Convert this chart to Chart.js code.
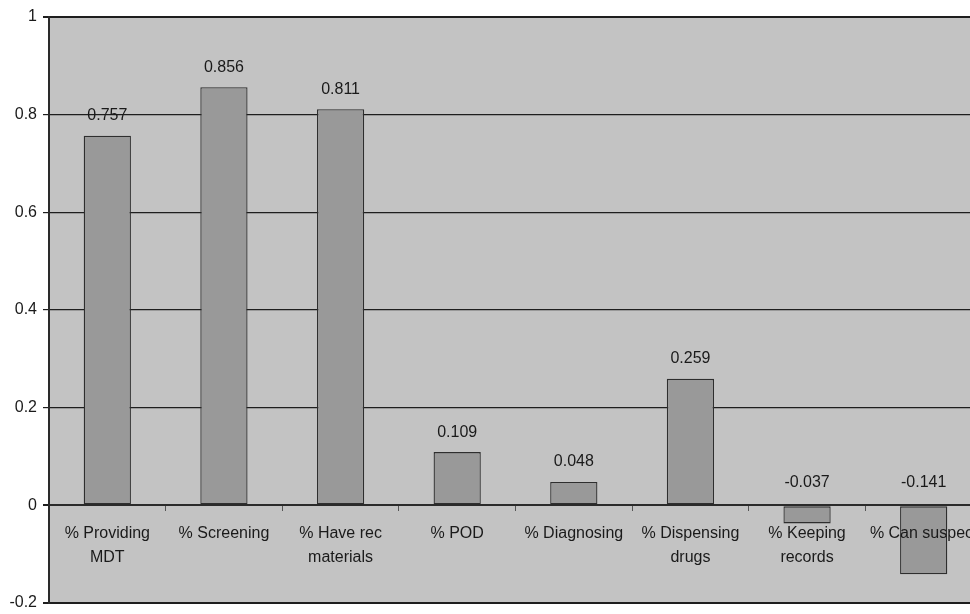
<!DOCTYPE html>
<html>
<head>
<meta charset="utf-8">
<script src="https://cdn.jsdelivr.net/npm/chart.js@4/dist/chart.umd.min.js"></script>
<style>
  html, body { margin: 0; padding: 0; background: #ffffff; overflow: hidden; }
  #wrap { width: 990px; height: 614px; }
</style>
</head>
<body>
<div id="wrap"><canvas id="c" width="990" height="614"></canvas></div>
<script>
// Share of facilities reporting each practice (difference scores)
const categories = [
  ['% Providing', 'MDT'],
  '% Screening',
  ['% Have rec', 'materials'],
  '% POD',
  '% Diagnosing',
  ['% Dispensing', 'drugs'],
  ['% Keeping', 'records'],
  '% Can suspect'
];
const values = [0.757, 0.856, 0.811, 0.109, 0.048, 0.259, -0.037, -0.141];
const yMin = -0.2, yMax = 1, yStep = 0.2;

const FONT = 'Liberation Sans, Arial, sans-serif';
const INK = '#1a1a1a';

// gray plot background behind the bars
const plotBackground = {
  id: 'plotBackground',
  beforeDraw(chart) {
    const { ctx, chartArea: a } = chart;
    ctx.save();
    ctx.fillStyle = '#c3c3c3';
    ctx.fillRect(a.left, a.top, a.right - a.left, a.bottom - a.top);
    ctx.restore();
  }
};

// value printed above each bar (negative bars get it above the zero line)
const valueLabels = {
  id: 'valueLabels',
  afterDatasetsDraw(chart) {
    const { ctx } = chart;
    const zeroY = chart.scales.y.getPixelForValue(0);
    const meta = chart.getDatasetMeta(0);
    ctx.save();
    ctx.font = '16px ' + FONT;
    ctx.fillStyle = INK;
    ctx.textAlign = 'center';
    ctx.textBaseline = 'middle';
    meta.data.forEach((bar, i) => {
      const v = values[i];
      const y = v >= 0 ? bar.y - 20 : zeroY - 23;
      ctx.fillText(v.toFixed(3), bar.x, y);
    });
    ctx.restore();
  }
};

new Chart(document.getElementById('c'), {
  type: 'bar',
  data: {
    labels: categories,
    datasets: [{
      data: values,
      backgroundColor: '#999999',
      borderColor: '#2e2e2e',
      borderWidth: 1.3,
      borderSkipped: false,
      categoryPercentage: 1,
      barPercentage: 0.405
    }]
  },
  options: {
    responsive: false,
    animation: false,
    layout: { padding: { top: 17, bottom: 11, left: 0, right: 8 } },
    plugins: { legend: { display: false }, tooltip: { enabled: false } },
    scales: {
      x: {
        type: 'category',
        position: { y: 0 },
        offset: true,
        grid: {
          offset: true,
          drawOnChartArea: false,
          drawTicks: true,
          tickLength: 5,
          color: '#555555',
          lineWidth: 1
        },
        border: { display: true, color: '#2a2a2a', width: 2, z: 1 },
        ticks: {
          z: 1,
          padding: 11,
          maxRotation: 0,
          autoSkip: false,
          color: INK,
          font: { family: FONT, size: 16, lineHeight: 1.5 }
        }
      },
      y: {
        min: yMin,
        max: yMax,
        afterFit(scale) {
          scale.width = 49;
          scale.paddingTop = 0;
          scale.paddingBottom = 0;
        },
        afterBuildTicks(scale) {
          const t = [];
          for (let v = yMin; v <= yMax + 1e-9; v += yStep) t.push({ value: Math.round(v * 10) / 10 });
          scale.ticks = t;
        },
        grid: {
          color: '#1e1e1e',
          lineWidth: (c) => {
            const v = c.tick ? c.tick.value : 0;
            return (v === 1 || v === -0.2 || v === 0) ? 2 : 1.2;
          },
          tickLength: 6,
          drawTicks: true
        },
        border: { display: true, color: '#2a2a2a', width: 2 },
        ticks: {
          padding: 6,
          color: INK,
          font: { family: FONT, size: 16 },
          callback: (v) => String(Math.round(v * 10) / 10)
        }
      }
    }
  },
  plugins: [plotBackground, valueLabels]
});
</script>
</body>
</html>
